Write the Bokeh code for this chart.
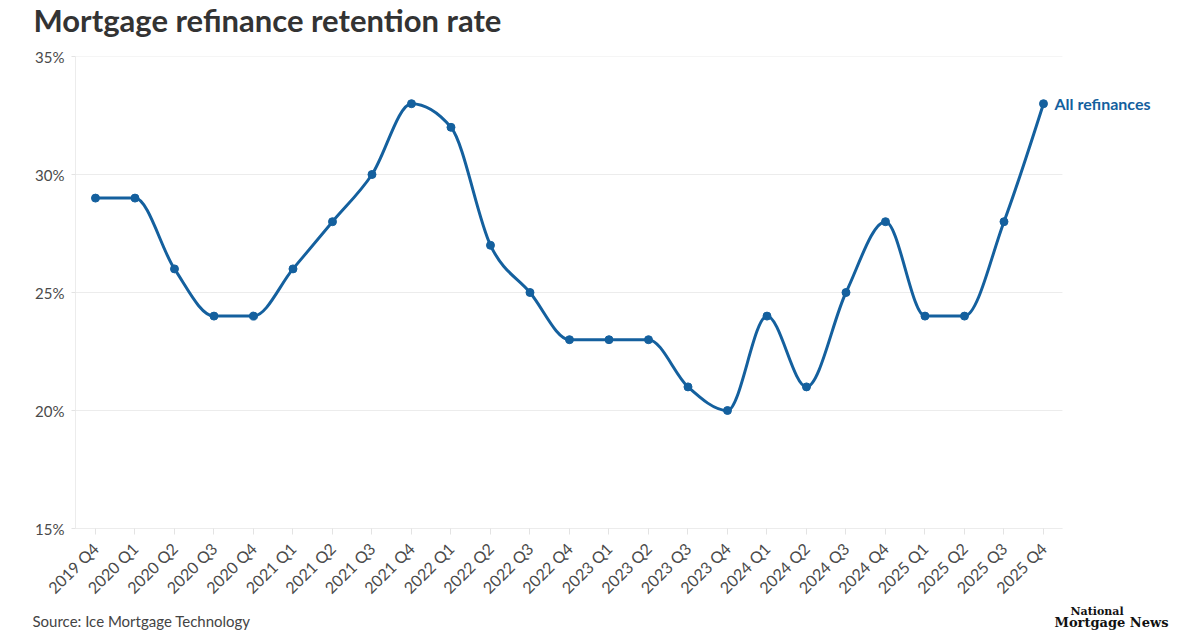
import numpy as np
from math import pi
from bokeh.plotting import figure
from bokeh.layouts import column
from bokeh.models import Range1d, FixedTicker, Label, CustomJSTickFormatter
from bokeh.embed import file_html
from bokeh.resources import INLINE

# ---------------- data ----------------
quarters = ["2019 Q4", "2020 Q1", "2020 Q2", "2020 Q3", "2020 Q4",
            "2021 Q1", "2021 Q2", "2021 Q3", "2021 Q4",
            "2022 Q1", "2022 Q2", "2022 Q3", "2022 Q4",
            "2023 Q1", "2023 Q2", "2023 Q3", "2023 Q4",
            "2024 Q1", "2024 Q2", "2024 Q3", "2024 Q4",
            "2025 Q1", "2025 Q2", "2025 Q3", "2025 Q4"]
retention = [29, 29, 26, 24, 24, 26, 28, 30, 33, 32, 27, 25, 23,
             23, 23, 21, 20, 24, 21, 25, 28, 24, 24, 28, 33]
y_ticks = [15, 20, 25, 30, 35]
series_name = "All refinances"
title_text = "Mortgage refinance retention rate"
source_text = "Source: Ice Mortgage Technology"
logo_lines = ["National", "Mortgage News"]

# ---------------- style / layout ----------------
BLUE = "#14609e"
FONT = "Lato"
W = 1200
HEAD_H, MAIN_H, FOOT_H = 40, 566, 24
LEFT, TOP, BOTTOM = 75, 16, 76
X_START, X_END = -0.506, 27.975      # frame spans past the data to hold the series label
GRID_END = 24.48

n = len(retention)
x = np.arange(n, dtype=float)
y = [float(v) for v in retention]

# monotone-x tangents (as d3.curveMonotoneX)
def sgn(v):
    return 1 if v > 0 else (-1 if v < 0 else 0)

t = [0.0] * n
for i in range(1, n - 1):
    s0 = y[i] - y[i - 1]
    s1 = y[i + 1] - y[i]
    pp = (s0 + s1) / 2
    t[i] = (sgn(s0) + sgn(s1)) * min(abs(s0), abs(s1), 0.5 * abs(pp))
t[0] = (3 * (y[1] - y[0]) - t[1]) / 2
t[-1] = (3 * (y[-1] - y[-2]) - t[-2]) / 2
y = np.array(y)
t = np.array(t)


def text_strip(height):
    f = figure(width=W, height=height, x_range=Range1d(0, W), y_range=Range1d(height, 0),
               x_axis_type=None, y_axis_type=None, output_backend="svg",
               toolbar_location=None, title=None,
               min_border=0, min_border_left=0, min_border_right=0,
               min_border_top=0, min_border_bottom=0)
    f.frame_align = False
    f.outline_line_color = None
    f.grid.visible = False
    return f


# ---------------- header ----------------
head = text_strip(HEAD_H)
head.add_layout(Label(x=33, y=19, text=title_text, text_font=FONT, text_font_style="bold",
                      text_font_size="31px", text_color="#333333", text_baseline="middle"))

# ---------------- main chart ----------------
p = figure(width=W, height=MAIN_H, x_range=Range1d(X_START, X_END), y_range=Range1d(15, 35),
           output_backend="svg", toolbar_location=None, title=None,
           min_border_left=LEFT, min_border_right=0, min_border_top=TOP, min_border_bottom=BOTTOM)
p.outline_line_color = None
p.background_fill_color = "white"
p.border_fill_color = "white"
p.xgrid.visible = False
p.ygrid.visible = False

# horizontal grid lines at the y ticks, limited to the data area
p.segment(x0=[X_START] * len(y_ticks), y0=y_ticks, x1=[GRID_END] * len(y_ticks), y1=y_ticks,
          line_color="#ececec", line_width=1)

p.bezier(x0=x[:-1], y0=y[:-1], x1=x[1:], y1=y[1:],
         cx0=x[:-1] + 1 / 3, cy0=y[:-1] + t[:-1] / 3,
         cx1=x[1:] - 1 / 3, cy1=y[1:] - t[1:] / 3,
         line_color=BLUE, line_width=3, line_cap="round")
p.scatter(x, y, size=8, color=BLUE)

p.yaxis.ticker = FixedTicker(ticks=y_ticks)
p.yaxis.formatter = CustomJSTickFormatter(code="return tick + '%'")
p.yaxis.bounds = (15, 35)
p.xaxis.ticker = FixedTicker(ticks=list(range(n)))
p.xaxis.formatter = CustomJSTickFormatter(args=dict(labels=quarters),
                                          code="return labels[Math.round(tick)] || ''")
p.xaxis.bounds = (X_START, GRID_END)
for ax in (p.xaxis[0], p.yaxis[0]):
    ax.axis_line_color = "#ececec"
    ax.major_tick_line_color = "#e3e3e3"
    ax.minor_tick_line_color = None
    ax.major_tick_in = 0
    ax.major_label_text_font = FONT
    ax.major_label_text_color = "#4a4a4a"
p.yaxis.major_label_text_font_size = "15px"
p.xaxis.major_label_text_font_size = "16px"
p.yaxis.major_tick_out = 4
p.yaxis.major_label_standoff = 7
p.xaxis.major_tick_out = 6
p.xaxis.major_label_standoff = 11
p.xaxis.major_label_orientation = pi / 4

p.add_layout(Label(x=x[-1], y=y[-1], text=series_name, x_offset=11,
                   text_baseline="middle", text_font=FONT, text_font_style="bold",
                   text_font_size="16px", text_color=BLUE))

# ---------------- footer ----------------
foot = text_strip(FOOT_H)
foot.add_layout(Label(x=32, y=14.6, text=source_text, text_font=FONT,
                      text_font_size="15px", text_color="#444444", text_baseline="middle"))
foot.add_layout(Label(x=1070, y=5, text=logo_lines[0], text_font="DejaVu Serif",
                      text_font_style="bold", text_font_size="11px", text_color="#111111",
                      text_baseline="middle"))
foot.add_layout(Label(x=1054, y=16, text=logo_lines[1], text_font="DejaVu Serif",
                      text_font_style="bold", text_font_size="13px", text_color="#111111",
                      text_baseline="middle"))

layout = column(head, p, foot, spacing=0)
open("out.html", "w").write(file_html(layout, INLINE))
